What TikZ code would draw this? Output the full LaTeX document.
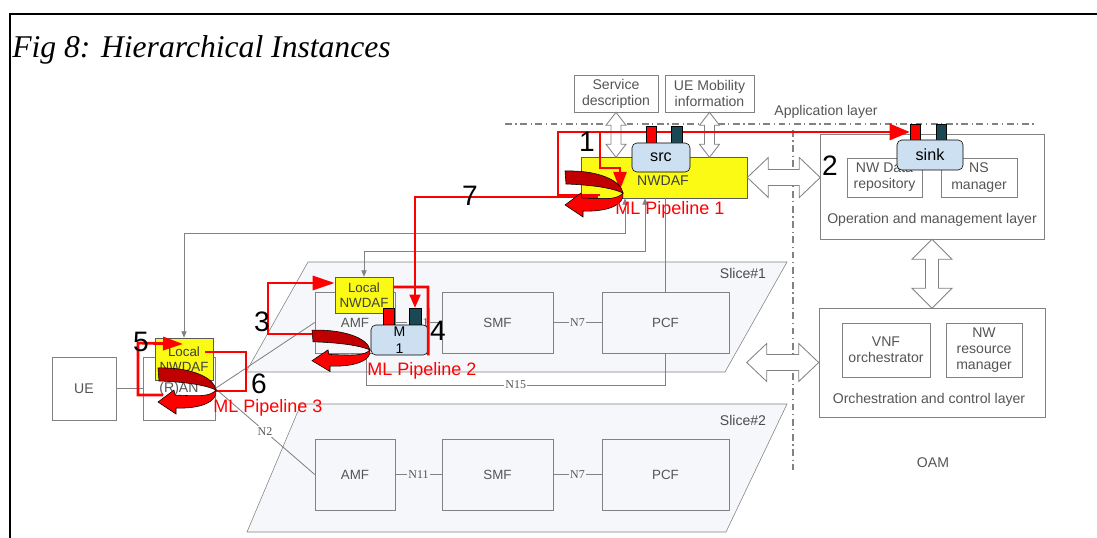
\documentclass[tikz,border=0pt]{standalone}
\usepackage{fontspec}
\setmainfont{Liberation Serif}
\setsansfont{Liberation Sans}
\usepackage{xcolor}
\definecolor{nwred}{RGB}{255,0,0}
\definecolor{nwdark}{RGB}{192,0,0}
\definecolor{nwyellow}{RGB}{250,250,20}
\definecolor{nwblue}{RGB}{204,224,242}
\definecolor{nwteal}{RGB}{26,72,84}
\definecolor{nwgray}{RGB}{130,130,130}
\definecolor{nwtext}{RGB}{85,85,85}
\definecolor{nwslice}{RGB}{245,247,251}
\usepackage{tikz}
\usetikzlibrary{arrows.meta, positioning, calc}
\newcommand{\pu}{0.025cm}

\tikzset{
  pics/duplex/.style n args={4}{code={
    \draw[nwgray, fill=white, line width=0.6pt]
      (0,0) -- (#4,-#2) -- (#4,-#3) -- (#1-#4,-#3) -- (#1-#4,-#2) -- (#1,0)
      -- (#1-#4,#2) -- (#1-#4,#3) -- (#4,#3) -- (#4,#2) -- cycle;}},
  pics/mlturn/.style={code={
    \draw[black, line width=0.4pt, fill=nwred]
      (58,21) .. controls (52,28) and (40,27) .. (17,26) -- (16,21) -- (0,33)
      -- (18,45) -- (18,39) .. controls (42,40) and (60,33) .. (58,21) -- cycle;
    \draw[black, line width=0.4pt, fill=nwdark]
      (0,-1) .. controls (32,-2) and (56,8) .. (58,21)
      .. controls (47,16) and (28,13) .. (1,12) -- cycle;}}
}

\begin{document}
\begin{tikzpicture}[x=\pu, y=-\pu,
  box/.style={draw=nwgray, fill=white, text=nwtext, align=center, inner sep=0pt,
    font=\sffamily\fontsize{10}{11.5}\selectfont},
  slicebox/.style={box, fill=nwslice, font=\sffamily\fontsize{9.5}{11}\selectfont},
  localbox/.style={box, draw=nwgray!70!black, fill=nwyellow, text=black!75,
    font=\sffamily\fontsize{9.5}{11}\selectfont},
  mod/.style={draw=black, fill=nwblue, rounded corners=0.12cm, inner sep=0pt,
    align=center, font=\sffamily\fontsize{11.5}{12}\selectfont},
  port/.style={draw=black, line width=0.4pt, inner sep=0pt},
  sz/.style 2 args={minimum width=#1*\pu, minimum height=#2*\pu},
  lbl/.style={text=nwtext, inner sep=0pt, font=\sffamily\fontsize{10}{12}\selectfont},
  nlbl/.style={text=nwtext, fill=nwslice, inner sep=1pt, font=\fontsize{8.5}{9}\selectfont},
  bignum/.style={inner sep=0pt, font=\sffamily\fontsize{20}{20}\selectfont},
  pipe/.style={text=nwred, inner sep=0pt, font=\sffamily\fontsize{12.8}{13}\selectfont},
  gline/.style={draw=nwgray, line width=0.6pt},
  gtips/.style={{Triangle[length=0.16cm, width=0.13cm]}-{Triangle[length=0.16cm, width=0.13cm]}},
  layerline/.style={draw=nwgray, line width=0.9pt,
    dash pattern=on 0.17cm off 0.09cm on 0.03cm off 0.09cm},
  redline/.style={draw=nwred, line width=2pt},
  redthin/.style={draw=nwred, line width=0.8pt}]

  \useasboundingbox (0,0) rectangle (1097,538);

  % --- Frame and title ---
  \draw[line width=1.4pt] (10,538) -- (10,14) -- (1097,14);
  \node[anchor=base west, inner sep=0pt, font=\itshape\fontsize{22.5}{23}\selectfont]
    (title) at (12,58) {Fig 8: Hierarchical Instances};

  % --- Layer borders ---
  \draw[layerline] (505,124) -- (1035,124);
  \draw[layerline] (793,130) -- (793,470);
  \node[lbl] (applbl) at (826,112) {Application layer};

  % --- Slice#1 ---
  \draw[draw=nwgray, fill=nwslice] (308,262) -- (787,262) -- (725,372) -- (246,372) -- cycle;
  \node[lbl, text=black!70] (s1lbl) at (743,273) {Slice\#1};
  \node[slicebox, sz={80}{61}] (amfa) at (355,322.5) {AMF};
  \node[slicebox, sz={111}{61}] (smfa) at (497.5,322.5) {SMF};
  \node[slicebox, sz={127}{61}] (pcfa) at (665.5,322.5) {PCF};
  \draw[gline] (amfa) -- node[nlbl] (n11a) {N11} (smfa);
  \draw[gline] (smfa) -- node[nlbl] (n7a) {N7} (pcfa);

  % --- Slice#2 ---
  \draw[draw=nwgray, fill=nwslice] (301,404) -- (787,404) -- (726,532) -- (247,532) -- cycle;
  \node[lbl, text=black!70] (s2lbl) at (743,420) {Slice\#2};
  \node[slicebox, sz={80}{71}] (amfb) at (355,474.5) {AMF};
  \node[slicebox, sz={111}{71}] (smfb) at (497.5,474.5) {SMF};
  \node[slicebox, sz={127}{71}] (pcfb) at (665.5,474.5) {PCF};
  \draw[gline] (amfb) -- node[nlbl] (n11b) {N11} (smfb);
  \draw[gline] (smfb) -- node[nlbl] (n7b) {N7} (pcfb);

  % --- Access side ---
  \node[box, sz={64}{63}] (ue) at (84,388.5) {UE};
  \node[box, sz={72}{63}] (ran) at (179,388.5) {(R)AN};
  \draw[gline] (ue) -- (ran);
  \draw[gline] (ran.east) -- (amfa.west);
  \draw[gline] (ran.east) -- node[nlbl, fill=white] (n2) {N2} (amfb.west);
  \coordinate (cn15) at (366,385);
  \draw[gline] (pcfa.south) |- node[nlbl, fill=white, pos=0.75] (n15) {N15} (cn15)
    -- (cn15 |- amfa.south);

  % --- Central NWDAF ---
  \node[box, sz={84}{37}] (svc) at (616,93.5) {Service\\description};
  \node[box, sz={89}{37}] (uem) at (709.5,93.5) {UE Mobility\\information};
  \node[localbox, sz={166}{41}] (nwdaf) at (664,177.5) {};
  \node[lbl, text=black!75] (nwdaflbl) at (663,181) {NWDAF};
  \pic[rotate=-90] at (svc.south) {duplex={45}{10}{5}{13}};
  \pic[rotate=-90] at (uem.south |- svc.south) {duplex={45}{10}{5}{13}};

  % feedback to the local instances
  \node[localbox, sz={58}{36}] (lnwamf) at (364,295) {Local\\NWDAF};
  \node[localbox, sz={58}{42}] (lnwran) at (184,359) {Local\\NWDAF};
  \coordinate (cg1) at (625,233);
  \coordinate (cg2) at (645,251);
  \draw[gline, gtips] (nwdaf.south -| cg1) -- (cg1) -| (lnwran.north);
  \draw[gline, gtips] (nwdaf.south -| cg2) -- (cg2) -| (lnwamf.north);
  \draw[gline] (pcfa.north |- nwdaf.south) -- (pcfa.north);

  % --- OAM ---
  \node[box, sz={224}{105}] (oml) at (932,186.5) {};
  \node[box, sz={75}{39}] (nwdata) at (884.5,177.5) {NW Data\\repository};
  \node[box, sz={76}{39}] (nsman) at (979,177.5) {NS\\manager};
  \node[lbl] (omltxt) at (932,220) {Operation and management layer};
  \node[box, sz={226}{109}] (ocl) at (932,362.5) {};
  \node[box, sz={88}{54}] (vnf) at (886,350) {VNF\\orchestrator};
  \node[box, sz={76}{54}] (nwres) at (984,350) {NW\\resource\\manager};
  \node[lbl] (ocltxt) at (929,400) {Orchestration and control layer};
  \node[lbl] (oam) at (933,463) {OAM};
  \pic at (nwdaf.east) {duplex={73}{20}{8}{21}};
  \pic[rotate=-90] at (oml.south) {duplex={69}{20}{6.5}{20}};
  \pic[rotate=180] at (ocl.west) {duplex={72}{19}{8}{20}};

  % --- ML modules ---
  \node[port, fill=nwred, sz={10}{16}] (sinkr) at (915,132) {};
  \node[port, fill=nwteal, sz={10}{16}] (sinkt) at (941,132) {};
  \node[mod, sz={66}{30}] (sink) at (930,155) {sink};
  \node[port, fill=nwred, sz={11}{17}] (m1r) at (388.5,316.5) {};
  \node[port, fill=nwteal, sz={12}{17}] (m1t) at (415,316.5) {};
  \node[mod, sz={57}{30}, font=\sffamily\fontsize{10}{12}\selectfont] (m1) at (399.5,340) {M\\1};

  % --- Pipeline 1 ---
  \coordinate (c1a) at (600,195);
  \coordinate (c1b) at (558,132);
  \coordinate (c1c) at (600,132);
  \coordinate (c1d) at (620,168);
  \coordinate (c1e) at (620,190);
  \coordinate (c7) at (598,197);
  \draw[redline, -{Triangle[length=0.5cm, width=0.4cm]}] (c1a) -| (c1b) -- (sinkr.west);
  \draw[redline, -{Triangle[length=0.45cm, width=0.32cm]}] (c1c) |- (c1d) -- (c1e);
  \draw[redthin, -{Triangle[length=0.33cm, width=0.28cm]}] (c7) -| (m1t.north);

  % --- Pipeline 2 ---
  \coordinate (c2a) at (313,334);
  \coordinate (c2b) at (268,283);
  \coordinate (c2c) at (428,287);
  \draw[redline, -{Triangle[length=0.55cm, width=0.35cm]}] (c2a) -| (c2b) -- (lnwamf.west |- c2b);
  \draw[redline] (lnwamf.east |- c2c) -- (c2c) -- (m1.south east);

  % --- Pipeline 3 ---
  \coordinate (c3a) at (163,395);
  \coordinate (c3b) at (138,343);
  \coordinate (c3c) at (183,344);
  \coordinate (c3d) at (205,352);
  \coordinate (c3e) at (246,391);
  \coordinate (c3f) at (215,391);
  \draw[redline, -{Triangle[length=0.5cm, width=0.33cm]}] (c3a) -| (c3b) -- (c3c);
  \draw[redline] (c3d) -| (c3e) -- (c3f);

  % U-turn arrows
  \pic at (565,172) {mlturn};
  \pic[yscale=0.9] at (312,331) {mlturn};
  \pic at (158,369) {mlturn};

  % source module on NWDAF
  \node[port, fill=nwred, sz={10}{17}] (srcr) at (651,134.5) {};
  \node[port, fill=nwteal, sz={11}{17}] (srct) at (676.5,134.5) {};
  \node[mod, sz={58}{29}] (src) at (661,157.5) {src};

  % --- Step numbers and pipeline labels ---
  \node[bignum] (num1) at (587,142) {1};
  \node[bignum] (num2) at (830,166) {2};
  \node[bignum] (num3) at (262,322) {3};
  \node[bignum] (num4) at (438,331) {4};
  \node[bignum] (num5) at (141,342) {5};
  \node[bignum] (num6) at (259,384) {6};
  \node[bignum] (num7) at (470,196) {7};
  \node[pipe] (pipe1) at (670,210) {ML Pipeline 1};
  \node[pipe] (pipe2) at (422,371) {ML Pipeline 2};
  \node[pipe] (pipe3) at (268,408) {ML Pipeline 3};
\end{tikzpicture}
\end{document}
